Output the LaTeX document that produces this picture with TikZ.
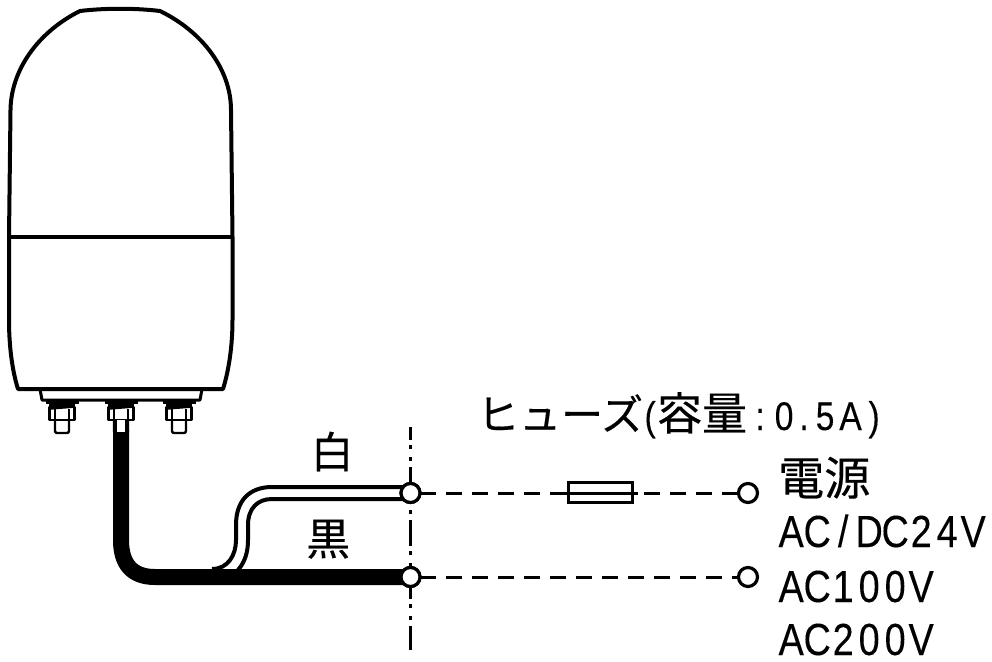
\documentclass[tikz,border=0pt]{standalone}
\usepackage{fontspec}
\newfontfamily\jp[FakeBold=0.35]{Noto Sans CJK JP}
\newfontfamily\lat[FakeStretch=0.84,FakeBold=0.2]{Liberation Sans}
\newcommand\hw[1]{\makebox[26pt][c]{#1}}
\tikzset{
  body/.style={line width=4pt,line join=round},
  part/.style={line width=2.4pt,line join=round},
  blackwire/.style={line width=16pt},
  whitewire/.style={line width=4pt},
  dashline/.style={line width=3pt,dash pattern=on 15.5pt off 10.5pt},
  centerline/.style={line width=3pt,dash pattern=on 26pt off 5pt on 4pt off 8pt on 4pt off 6pt,dash phase=13pt},
  term/.style={circle,draw,line width=3.2pt,fill=white,minimum size=19pt,inner sep=0pt},
  fuse/.style={rectangle,draw,line width=3pt,minimum width=64pt,minimum height=20pt,inner sep=0pt},
  lab/.style={inner sep=0pt,anchor=base west},
  big/.style={lab,font=\lat\fontsize{45}{45}\selectfont},
}
\begin{document}
\begin{tikzpicture}[x=1pt,y=-1pt]
\useasboundingbox (0,0) rectangle (992,661);
% lamp body
\draw[body] (18,389) .. controls (12,370) and (9,345) .. (9,320) -- (9,237) -- (10.5,110)
  .. controls (11,70) and (38,32) .. (80,11) .. controls (105,8) and (135,8) .. (160,11)
  .. controls (203,32) and (231,70) .. (231,110) -- (232.5,237) -- (232.5,320)
  .. controls (232.5,345) and (229,370) .. (223,389) -- cycle;
\draw[body] (9,237) -- (232.5,237);
\draw[body,line width=3pt] (40,389) -- (42,400) -- (200,400) -- (202,389);
% bolts
\foreach \bx in {62,121,179}{
  \begin{scope}[shift={(\bx,0)}]
    \draw[part] (-16.5,402.5) -- (16.5,402.5);
    \draw[part,line width=1.6pt] (-13,405) -- (13,405);
    \draw[part,line width=1.6pt] (-12.5,409) -- (12.5,407);
    \draw[part] (-12.5,407) rectangle (12.5,420);
    \draw[part] (-7,409) -- (-7,420) (7,409) -- (7,420);
    \draw[part] (-7,420) -- (-7,431) arc (180:90:2) -- (5,433) arc (90:0:2) -- (7,420);
  \end{scope}
}
% nodes
\node[term] (t1) at (410.5,493) {};
\node[term] (t2) at (410.5,577) {};
\node[term] (p1) at (748,493) {};
\node[term] (p2) at (748,577) {};
\node[fuse] (f) at (600,492.7) {};
\coordinate (ctop) at (410.5,427);
\coordinate (cbot) at (410.5,650);
\coordinate (fl) at (562,493);
\coordinate (fr) at (638,493);
\coordinate (after) at (644,493);
\draw[centerline] (ctop) -- (cbot);
% wires
\draw[whitewire] (t1.center) ++(0,-6) -- (272,487) .. controls (250,487) and (236,500) .. (236,525)
  -- (236,540) .. controls (236,555) and (228,569) .. (212,569);
\draw[whitewire] (t1.center) ++(0,6) -- (272,499) .. controls (258,499) and (248,508) .. (248,525)
  -- (248,540) .. controls (248,552) and (245,562) .. (238,570);
\draw[blackwire] (121,430) -- (121,540) .. controls (121,564) and (132,577) .. (155,577) -- (t2.center);
\fill[white] (116.5,420) rectangle (125.5,433);
\draw[part] (116,420) -- (116,433) -- (126,433) -- (126,420);
% dashed leads
\draw[dashline] (t1.center) ++(9.5,0) -- (fl);
\draw[dashline] (after) -- (p1.west);
\draw[line width=3pt] (fl) -- (fr);
\draw[dashline] (t2.center) ++(9.5,0) -- (p2.west);
\node[term] at (t1) {};
\node[term] at (t2) {};
% labels
\node[lab,font=\jp\fontsize{43}{43}\selectfont] (shiro) at (310.5,468) {白};
\node[lab,font=\jp\fontsize{44}{44}\selectfont] (kuro) at (306,555) {黒};
\node[lab,font=\jp\fontsize{42}{42}\selectfont] (fuselabel) at (477,430)
  {ヒューズ\lat\fontsize{40}{40}\selectfont\makebox[14pt][c]{(}{\jp\fontsize{45}{45}\selectfont 容量}\makebox[26pt][c]{:}\makebox[22pt][c]{0}\makebox[18pt][c]{.}\makebox[24pt][c]{5}\makebox[27pt][c]{A}\makebox[20pt][c]{)}};
\node[lab,font=\jp\fontsize{46}{46}\selectfont] (dengen) at (778,495) {電源};
\node[big] (v24) at (778,547) {\hw{A}\hw{C}\hw{/}\hw{D}\hw{C}\hw{2}\hw{4}\hw{V}};
\node[big] (v100) at (778,602) {\hw{A}\hw{C}\hw{1}\hw{0}\hw{0}\hw{V}};
\node[big] (v200) at (778,655) {\hw{A}\hw{C}\hw{2}\hw{0}\hw{0}\hw{V}};
\end{tikzpicture}
\end{document}
